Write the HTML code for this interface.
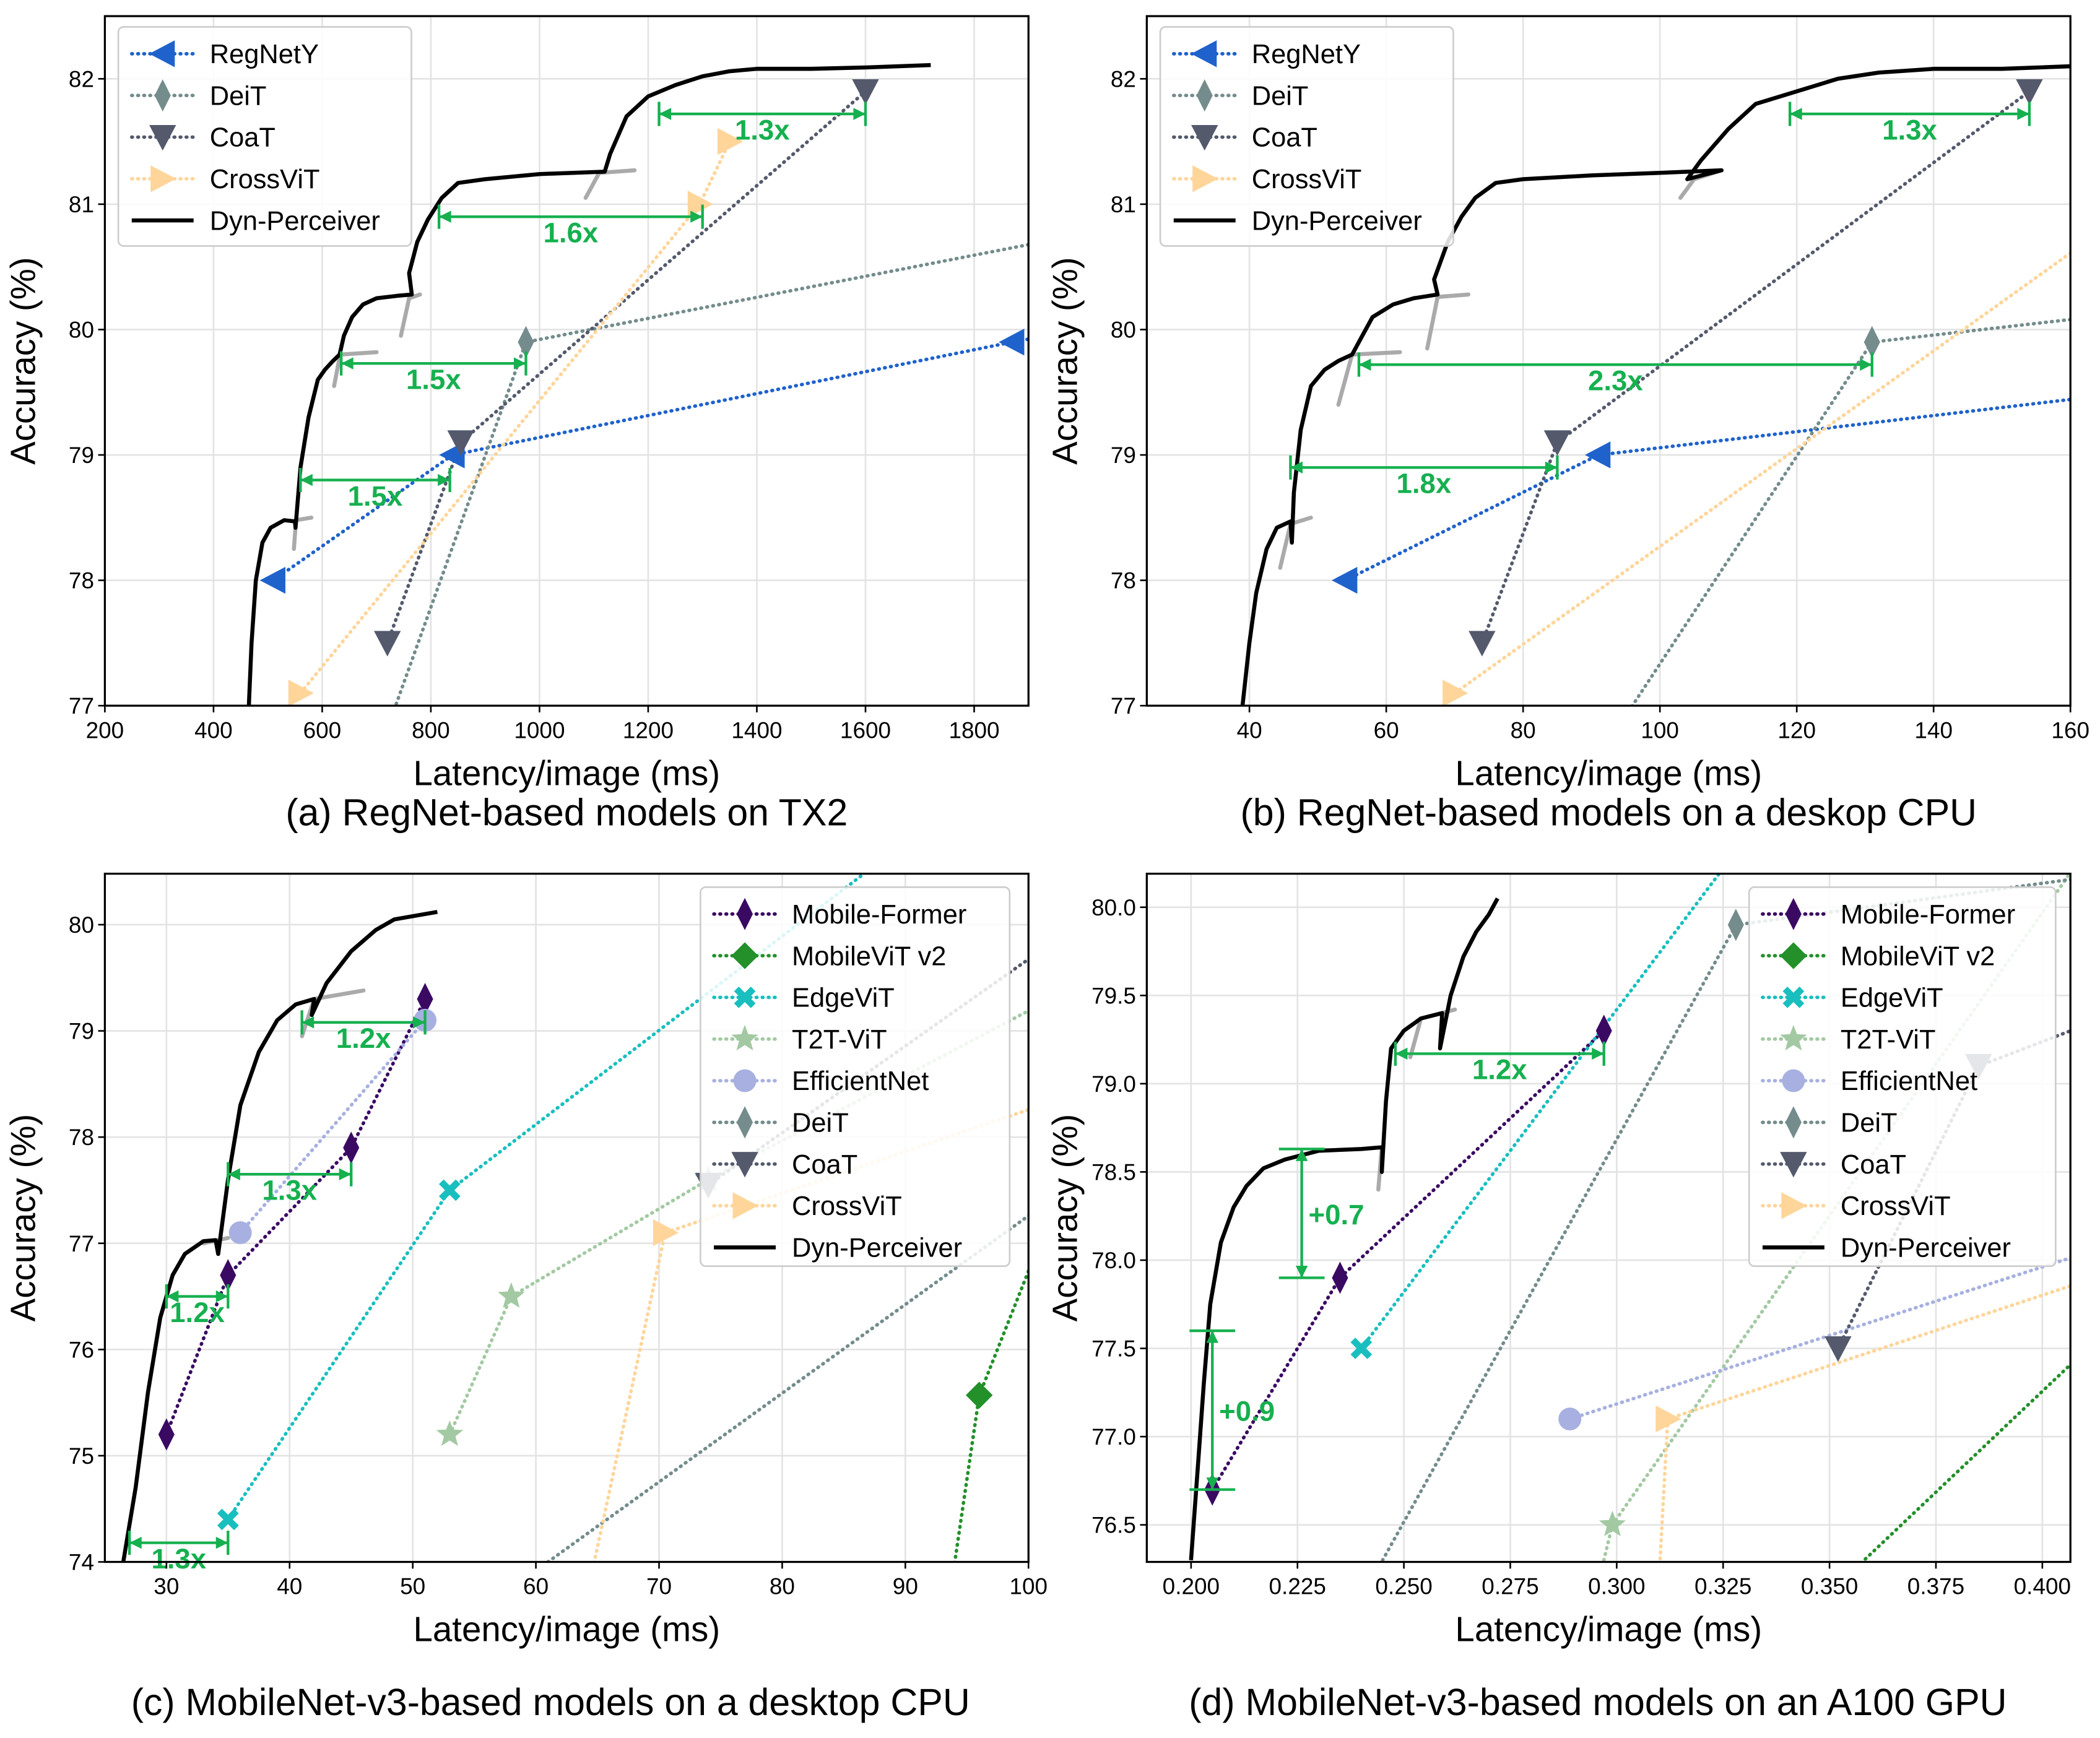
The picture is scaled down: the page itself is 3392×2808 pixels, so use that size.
<!DOCTYPE html>
<html><head><meta charset="utf-8"><style>
html,body{margin:0;padding:0;background:#fff;}
svg{display:block;font-family:"Liberation Sans","DejaVu Sans",sans-serif;}
</style></head><body>
<svg id="fig" width="3392" height="2808" viewBox="0 0 1562 1293" preserveAspectRatio="none" xmlns="http://www.w3.org/2000/svg"></svg>
<script>
// ---------- data: panel (a) ----------
const a_regnety = [[510,78],[840,79],[1870,79.9],[2500,80.4]];
const a_deit = [[338,72.2],[975,79.9],[3236,81.8]];
const a_coat = [[720,77.5],[855,79.1],[1600,81.9]];
const a_crossvit = [[560,77.1],[1295,81.0],[1350,81.5]];
const a_dyn = [[465,77],[470,77.5],[478,78],[490,78.3],[505,78.42],[530,78.48],[550,78.47],[551,78.42],[560,78.9],[575,79.3],[592,79.6],[605,79.68],[620,79.75],[632,79.8],[640,79.95],[655,80.1],[675,80.2],[700,80.25],[740,80.27],[765,80.28],[760,80.45],[775,80.7],[795,80.88],[820,81.05],[850,81.17],[900,81.2],[1000,81.24],[1120,81.26],[1130,81.4],[1160,81.7],[1200,81.86],[1250,81.95],[1300,82.02],[1350,82.06],[1400,82.08],[1500,82.08],[1600,82.09],[1720,82.11]];
const a_grey = [[[548,78.25],[552,78.48],[580,78.5]],[[622,79.55],[633,79.8],[700,79.82]],[[745,79.95],[760,80.25],[780,80.28]],[[1085,81.05],[1110,81.25],[1175,81.27]]];
const a_ann = [[560,835,78.8,"1.5x"],[635,975,79.73,"1.5x"],[815,1300,80.9,"1.6x"],[1220,1600,81.72,"1.3x"]];
const a_xticks = [200,400,600,800,1000,1200,1400,1600,1800];
const a_yticks = [77,78,79,80,81,82];
// ---------- data: panel (b) ----------
const b_regnety = [[54,78],[91,79],[200,79.7]];
const b_deit = [[38,72.2],[131,79.9],[437,81.8]];
const b_coat = [[74,77.5],[85,79.1],[154,81.9]];
const b_crossvit = [[70,77.1],[170,81.0],[180,81.5]];
const b_dyn = [[39,77],[40,77.5],[41,77.9],[42.5,78.25],[44,78.42],[46,78.47],[46.2,78.3],[46.5,78.7],[47.5,79.2],[49,79.55],[51,79.68],[53,79.75],[55,79.8],[56.5,79.95],[58,80.1],[61,80.2],[64,80.25],[67.5,80.28],[67,80.4],[69,80.7],[71,80.9],[73,81.05],[76,81.17],[80,81.2],[90,81.23],[100,81.25],[109,81.27],[104,81.2],[106,81.35],[110,81.6],[114,81.8],[120,81.9],[126,82.0],[132,82.05],[140,82.08],[150,82.08],[160,82.1]];
const b_grey = [[[44.5,78.1],[46,78.45],[49,78.5]],[[53,79.4],[55,79.8],[62,79.82]],[[66,79.85],[67.5,80.26],[72,80.28]],[[103,81.05],[105,81.2],[109,81.27]]];
const b_ann = [[46,85,78.9,"1.8x"],[56,131,79.72,"2.3x"],[119,154,81.72,"1.3x"]];
const b_xticks = [40,60,80,100,120,140,160];
const b_yticks = [77,78,79,80,81,82];
// ---------- data: panel (c) ----------
const c_mobileformer = [[30,75.2],[35,76.7],[45,77.9],[51,79.3]];
const c_mobilevit = [[93,73.2],[96,75.57],[105,78.2]];
const c_edgevit = [[35,74.4],[53,77.5],[88,80.6]];
const c_t2t = [[53,75.2],[58,76.5],[74,77.6],[110,79.8]];
const c_efficientnet = [[36,77.1],[51,79.1]];
const c_deit = [[55,73.5],[140,80.6]];
const c_coat = [[74,77.55],[115,80.9]];
const c_crossvit = [[64,73.6],[70.5,77.1],[110,78.65]];
const c_dyn = [[26.5,74],[27.5,74.7],[28.5,75.6],[29.5,76.3],[30.5,76.7],[31.5,76.9],[33,77.02],[34,77.03],[34.2,76.9],[35,77.6],[36,78.3],[37.5,78.8],[39,79.1],[40.5,79.25],[42,79.3],[41.8,79.15],[43,79.45],[45,79.75],[47,79.95],[48.5,80.05],[52,80.12]];
const c_grey = [[[33,77.0],[35,77.05]],[[41,78.95],[42,79.3],[46,79.38]]];
const c_ann = [[30,35,76.5,"1.2x"],[35,45,77.65,"1.3x"],[41,51,79.08,"1.2x"],[27,35,74.18,"1.3x"]];
const c_xticks = [30,40,50,60,70,80,90,100];
const c_yticks = [74,75,76,77,78,79,80];
// ---------- data: panel (d) ----------
const d_mobileformer = [[0.205,76.7],[0.235,77.9],[0.297,79.3]];
const d_mobilevit = [[0.345,76.0],[0.45,78.4]];
const d_edgevit = [[0.24,77.5],[0.34,80.7]];
const d_t2t = [[0.294,76.0],[0.299,76.5],[0.43,81.0]];
const d_efficientnet = [[0.289,77.1],[0.45,78.35]];
const d_deit = [[0.2381,76.0],[0.328,79.9],[0.45,80.3]];
const d_coat = [[0.352,77.5],[0.385,79.1],[0.45,79.7]];
const d_crossvit = [[0.3095,76.0],[0.312,77.1],[0.45,78.2]];
const d_dyn = [[0.2,76.3],[0.2015,76.8],[0.203,77.3],[0.2045,77.75],[0.207,78.1],[0.21,78.3],[0.213,78.42],[0.217,78.52],[0.222,78.57],[0.23,78.62],[0.24,78.63],[0.245,78.64],[0.2448,78.5],[0.2458,78.9],[0.247,79.2],[0.25,79.3],[0.254,79.37],[0.259,79.4],[0.2585,79.2],[0.261,79.5],[0.264,79.72],[0.267,79.86],[0.27,79.96],[0.272,80.05]];
const d_grey = [[[0.244,78.4],[0.2448,78.64]],[[0.2515,79.15],[0.254,79.37],[0.262,79.42]]];
const d_hann = [[0.248,0.297,79.17,"1.2x"]];
const d_vann = [[0.226,77.9,78.63,"+0.7"],[0.205,76.7,77.6,"+0.9"]];
const d_xticks = [0.2,0.225,0.25,0.275,0.3,0.325,0.35,0.375,0.4];
const d_yticks = [76.5,77,77.5,78,78.5,79,79.5,80];

const C = {reg:"#1f62cc",deit:"#748c8c",coat:"#545a6c",cross:"#ffd59a",mf:"#3a0a63",mv:"#23902a",edge:"#19bfbf",t2t:"#a3c9a3",eff:"#a7b0e0",green:"#16b04f"};
const NS="http://www.w3.org/2000/svg";
const svg=document.getElementById('fig');
function mk(tag,attrs,parent,name,inter){const e=document.createElementNS(NS,tag);for(const k in attrs)e.setAttribute(k,attrs[k]);


(parent||svg).appendChild(e);return e;}

function marker(g,type,x,y,color,name){
  const s=10;let d;
  if(type==='left')d=`M${x-s} ${y}L${x+s*0.9} ${y-s}L${x+s*0.9} ${y+s}Z`;
  else if(type==='right')d=`M${x+s} ${y}L${x-s*0.9} ${y-s}L${x-s*0.9} ${y+s}Z`;
  else if(type==='down')d=`M${x} ${y+s}L${x-s} ${y-s*0.9}L${x+s} ${y-s*0.9}Z`;
  else if(type==='diamond')d=`M${x} ${y-s*1.2}L${x+s*0.6} ${y}L${x} ${y+s*1.2}L${x-s*0.6} ${y}Z`;
  else if(type==='sqdiamond')d=`M${x} ${y-s}L${x+s} ${y}L${x} ${y+s}L${x-s} ${y}Z`;
  else if(type==='x'){const a=3.5,b=8;d=`M${x-b} ${y-b+a}L${x-b+a} ${y-b}L${x} ${y-a}L${x+b-a} ${y-b}L${x+b} ${y-b+a}L${x+a} ${y}L${x+b} ${y+b-a}L${x+b-a} ${y+b}L${x} ${y+a}L${x-b+a} ${y+b}L${x-b} ${y+b-a}L${x-a} ${y}Z`;}
  else if(type==='star'){let p=[];for(let i=0;i<10;i++){const r=i%2?4.5:10.5,an=-Math.PI/2+i*Math.PI/5;p.push((x+r*Math.cos(an)).toFixed(1)+' '+(y+r*Math.sin(an)).toFixed(1));}d='M'+p.join('L')+'Z';}
  if(type==='circle')return mk('circle',{cx:x,cy:y,r:8.5,fill:color},g,name,false);
  return mk('path',{d:d,fill:color},g,name,false);
}

function panel(P){
  const g=mk('g',{},svg,P.id,false);
  const X=v=>P.px0+(v-P.x0)/(P.x1-P.x0)*(P.px1-P.px0);
  const Y=v=>P.py1-(v-P.y0)/(P.y1-P.y0)*(P.py1-P.py0);
  const cid='clip-'+P.id;
  const defs=mk('defs',{},g,'clip-defs',false);
  const cp=mk('clipPath',{id:cid},defs,'clip-path',false);
  mk('rect',{x:P.px0,y:P.py0,width:P.px1-P.px0,height:P.py1-P.py0},cp,'clip-rect',false);
  P.xt.forEach(t=>{mk('line',{x1:X(t),x2:X(t),y1:P.py0,y2:P.py1,stroke:'#e3e3e3','stroke-width':1.2},g,'x-grid-line',false);});
  P.yt.forEach(t=>{mk('line',{x1:P.px0,x2:P.px1,y1:Y(t),y2:Y(t),stroke:'#e3e3e3','stroke-width':1.2},g,'y-grid-line',false);});
  const plot=mk('g',{'clip-path':`url(#${cid})`},g,'plot-area',false);
  const pts=a=>a.map(p=>X(p[0]).toFixed(1)+','+Y(p[1]).toFixed(1)).join(' ');
  P.series.forEach(s=>{
    const sg=mk('g',{},plot,'series-'+s.key,false);
    mk('polyline',{points:pts(s.data),fill:'none',stroke:s.color,'stroke-width':2.6,'stroke-dasharray':'0.5,4','stroke-linecap':'round'},sg,s.key+'-line',false);
  });
  P.series.forEach(s=>{
    s.data.forEach(p=>marker(plot,s.m,X(p[0]),Y(p[1]),s.color,s.key+'-marker'));
  });
  P.grey.forEach(seg=>mk('polyline',{points:pts(seg),fill:'none',stroke:'#aaaaaa','stroke-width':3,'stroke-linecap':'round'},plot,'dyn-perceiver-exit-segment',false));
  mk('polyline',{points:pts(P.dyn),fill:'none',stroke:'#000','stroke-width':3,'stroke-linejoin':'round'},plot,'dyn-perceiver-line',false);
  const ag=mk('g',{},g,'speedup-annotations',false);
  (P.hann||[]).forEach(a=>{
    const x1=X(a[0]),x2=X(a[1]),y=Y(a[2]);
    mk('line',{x1:x1,x2:x2,y1:y,y2:y,stroke:C.green,'stroke-width':2},ag,'speedup-arrow',false);
    mk('line',{x1:x1,x2:x1,y1:y-9,y2:y+9,stroke:C.green,'stroke-width':2},ag,'arrow-tick',false);
    mk('line',{x1:x2,x2:x2,y1:y-9,y2:y+9,stroke:C.green,'stroke-width':2},ag,'arrow-tick',false);
    mk('path',{d:`M${x1} ${y}l9 -4.5v9Z M${x2} ${y}l-9 -4.5v9Z`,fill:C.green},ag,'arrow-heads',false);
    const t=mk('text',{x:(x1+x2)/2,y:y+19,'text-anchor':'middle','font-size':21,'font-weight':'bold',fill:C.green},ag,'speedup-label',false);t.textContent=a[3];
  });
  (P.vann||[]).forEach(a=>{
    const x=X(a[0]),y1=Y(a[1]),y2=Y(a[2]);
    mk('line',{x1:x,x2:x,y1:y1,y2:y2,stroke:C.green,'stroke-width':2},ag,'gain-arrow',false);
    mk('line',{x1:x-17,x2:x+17,y1:y1,y2:y1,stroke:C.green,'stroke-width':2},ag,'arrow-tick',false);
    mk('line',{x1:x-17,x2:x+17,y1:y2,y2:y2,stroke:C.green,'stroke-width':2},ag,'arrow-tick',false);
    mk('path',{d:`M${x} ${y1}l-4.5 -9h9Z M${x} ${y2}l-4.5 9h9Z`,fill:C.green},ag,'arrow-heads',false);
    const t=mk('text',{x:x+5,y:(y1+y2)/2+8,'font-size':21,'font-weight':'bold',fill:C.green},ag,'gain-label',false);t.textContent=a[3];
  });
  mk('rect',{x:P.px0,y:P.py0,width:P.px1-P.px0,height:P.py1-P.py0,fill:'none',stroke:'#000','stroke-width':1.5},g,'axes-frame',false);
  P.xt.forEach((t,i)=>{const x=X(t);mk('line',{x1:x,x2:x,y1:P.py1,y2:P.py1+5,stroke:'#000','stroke-width':1.2},g,'x-tick',false);
    const tx=mk('text',{x:x,y:P.py1+24,'text-anchor':'middle','font-size':17},g,'x-tick-label',false);tx.textContent=P.xl[i];});
  P.yt.forEach((t,i)=>{const y=Y(t);mk('line',{x1:P.px0-5,x2:P.px0,y1:y,y2:y,stroke:'#000','stroke-width':1.2},g,'y-tick',false);
    const tx=mk('text',{x:P.px0-8,y:y+6,'text-anchor':'end','font-size':17},g,'y-tick-label',false);tx.textContent=P.yl[i];});
  const xl=mk('text',{x:(P.px0+P.px1)/2,y:P.py1+59,'text-anchor':'middle','font-size':26},g,'x-axis-title',false);xl.textContent='Latency/image (ms)';
  const cy=(P.py0+P.py1)/2;
  const yx=P.px0-52;
  const yl=mk('text',{x:yx,y:cy,'text-anchor':'middle','font-size':26,transform:`rotate(-90 ${yx} ${cy})`},g,'y-axis-title',false);yl.textContent='Accuracy (%)';
  const cap=mk('text',{x:(P.px0+P.px1)/2+P.capdx,y:P.capY,'text-anchor':'middle','font-size':28},g,'panel-caption',false);cap.textContent=P.caption;
  const L=P.legend;const lg=mk('g',{},g,'legend',false);
  mk('rect',{x:L.x,y:L.y,width:L.w,height:L.h,rx:4,fill:'#fff','fill-opacity':0.85,stroke:'#cccccc','stroke-width':1.2},lg,'legend-box',false);
  P.legendItems.forEach((s,i)=>{
    const y=L.y+20+i*31;const eg=mk('g',{},lg,'legend-entry',false);
    if(s.key==='dyn')mk('line',{x1:L.x+10,x2:L.x+56,y1:y,y2:y,stroke:'#000','stroke-width':3},eg,'legend-line',false);
    else{mk('line',{x1:L.x+10,x2:L.x+56,y1:y,y2:y,stroke:s.color,'stroke-width':2.6,'stroke-dasharray':'0.5,4','stroke-linecap':'round'},eg,'legend-line',false);
      marker(eg,s.m,L.x+33,y,s.color,'legend-marker');}
    const t=mk('text',{x:L.x+68,y:y+7,'font-size':20},eg,'legend-label',false);t.textContent=s.name;
  });
}
const A4=[{key:'regnety',name:'RegNetY',color:C.reg,m:'left'},{key:'deit',name:'DeiT',color:C.deit,m:'diamond'},{key:'coat',name:'CoaT',color:C.coat,m:'down'},{key:'crossvit',name:'CrossViT',color:C.cross,m:'right'}];
const M8=[{key:'mobile-former',name:'Mobile-Former',color:C.mf,m:'diamond'},{key:'mobilevit-v2',name:'MobileViT v2',color:C.mv,m:'sqdiamond'},{key:'edgevit',name:'EdgeViT',color:C.edge,m:'x'},{key:'t2t-vit',name:'T2T-ViT',color:C.t2t,m:'star'},{key:'efficientnet',name:'EfficientNet',color:C.eff,m:'circle'},{key:'deit',name:'DeiT',color:C.deit,m:'diamond'},{key:'coat',name:'CoaT',color:C.coat,m:'down'},{key:'crossvit',name:'CrossViT',color:C.cross,m:'right'}];
const withData=(arr,data)=>arr.map((s,i)=>Object.assign({},s,{data:data[i]}));
const DYN={key:'dyn',name:'Dyn-Perceiver'};
panel({id:'panel-a',x0:200,x1:1900,y0:77,y1:82.5,px0:78,px1:765,py0:12,py1:525,xt:a_xticks,xl:a_xticks.map(String),yt:a_yticks,yl:a_yticks.map(String),
  series:withData(A4,[a_regnety,a_deit,a_coat,a_crossvit]),dyn:a_dyn,grey:a_grey,hann:a_ann,capY:614,capdx:0,caption:'(a) RegNet-based models on TX2',
  legend:{x:88,y:20,w:218,h:163},legendItems:A4.concat([DYN])});
panel({id:'panel-b',x0:25,x1:160,y0:77,y1:82.5,px0:853,px1:1540,py0:12,py1:525,xt:b_xticks,xl:b_xticks.map(String),yt:b_yticks,yl:b_yticks.map(String),
  series:withData(A4,[b_regnety,b_deit,b_coat,b_crossvit]),dyn:b_dyn,grey:b_grey,hann:b_ann,capY:614,capdx:0,caption:'(b) RegNet-based models on a deskop CPU',
  legend:{x:863,y:20,w:218,h:163},legendItems:A4.concat([DYN])});
panel({id:'panel-c',x0:25,x1:100,y0:74,y1:80.48,px0:78,px1:765,py0:650,py1:1162,xt:c_xticks,xl:c_xticks.map(String),yt:c_yticks,yl:c_yticks.map(String),
  series:withData(M8,[c_mobileformer,c_mobilevit,c_edgevit,c_t2t,c_efficientnet,c_deit,c_coat,c_crossvit]),dyn:c_dyn,grey:c_grey,hann:c_ann,capY:1276,capdx:-12,caption:'(c) MobileNet-v3-based models on a desktop CPU',
  legend:{x:521,y:660,w:230,h:282},legendItems:M8.concat([DYN])});
panel({id:'panel-d',x0:0.1896,x1:0.4066,y0:76.29,y1:80.19,px0:853,px1:1540,py0:650,py1:1162,xt:d_xticks,xl:d_xticks.map(v=>v.toFixed(3)),yt:d_yticks,yl:d_yticks.map(v=>v.toFixed(1)),
  series:withData(M8,[d_mobileformer,d_mobilevit,d_edgevit,d_t2t,d_efficientnet,d_deit,d_coat,d_crossvit]),dyn:d_dyn,grey:d_grey,hann:d_hann,vann:d_vann,capY:1276,capdx:-8,caption:'(d) MobileNet-v3-based models on an A100 GPU',
  legend:{x:1301,y:660,w:228,h:282},legendItems:M8.concat([DYN])});
</script>
</body></html>
